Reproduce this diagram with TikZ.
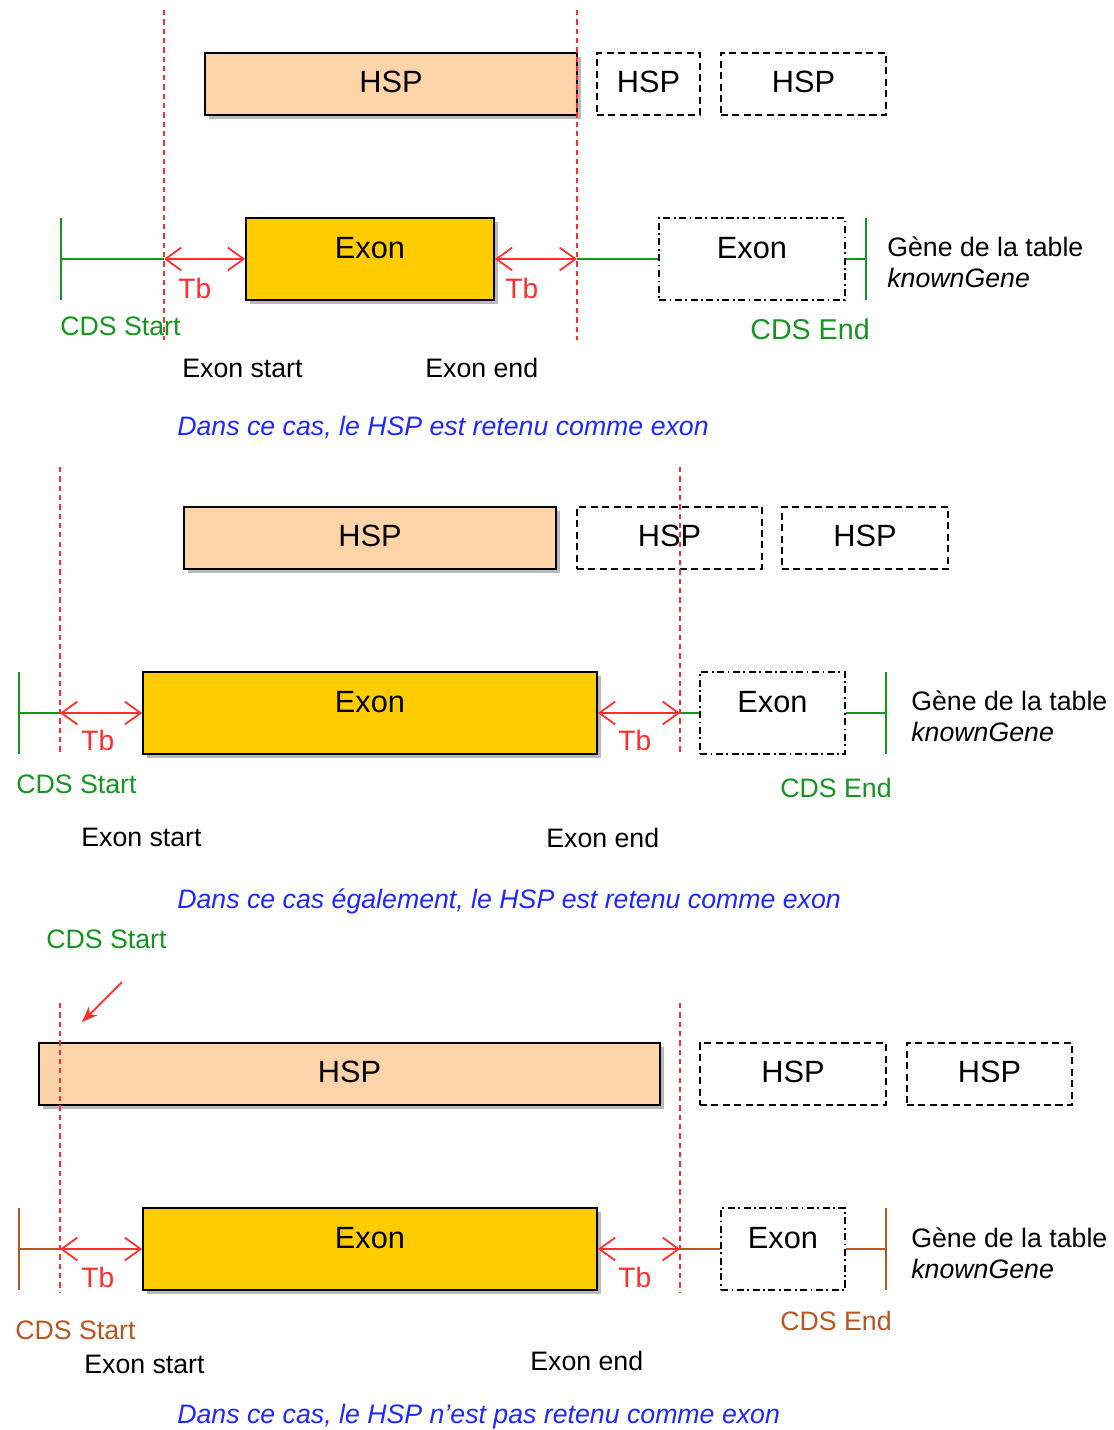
\documentclass[tikz,border=0pt]{standalone}
\usepackage{fontspec}
\setmainfont{Liberation Sans}
\usepackage{xcolor}
\usepackage{tikz}
\usetikzlibrary{shapes,arrows,arrows.meta,positioning,fit,backgrounds,shadows}

\definecolor{hspfill}{RGB}{252,212,168}
\definecolor{exonfill}{RGB}{255,204,0}
\definecolor{tbred}{RGB}{255,45,45}
\definecolor{cdsgreen}{RGB}{20,150,30}
\definecolor{cdsbrown}{RGB}{185,85,30}
\definecolor{noteblue}{RGB}{30,40,255}

\tikzset{
  boxfont/.style={font=\fontsize{17.5}{20}\selectfont},
  lbl/.style={anchor=base west,inner sep=0pt,font=\fontsize{15.2}{18}\selectfont},
  tblbl/.style={lbl,tbred,font=\fontsize{16}{19}\selectfont},
  notelbl/.style={lbl,noteblue,font=\fontsize{15.2}{18}\selectfont\itshape},
  hsptext/.style={label={[boxfont,yshift=1pt]center:#1}},
  hspbox/.style={draw,line width=1pt,fill=hspfill,inner sep=0pt,
    drop shadow={shadow xshift=2.5pt,shadow yshift=-2.5pt,opacity=0.55}},
  hspdash/.style={draw,line width=1pt,dash pattern=on 4pt off 2.5pt,inner sep=0pt},
  exonbox/.style={draw,line width=1pt,fill=exonfill,inner sep=0pt,boxfont,
    text height=6mm,text depth=6mm,
    drop shadow={shadow xshift=2.5pt,shadow yshift=-2.5pt,opacity=0.55}},
  exondash/.style={draw,line width=1pt,dash pattern=on 4pt off 2pt on 1pt off 2pt,
    inner sep=0pt,boxfont,text height=6mm,text depth=6mm},
  guide/.style={tbred,line width=0.9pt,dash pattern=on 3pt off 2.3pt},
  tbarrow/.style={tbred,line width=1pt,
    {Straight Barb[length=9pt,width=13pt]}-{Straight Barb[length=9pt,width=13pt]}},
  cds/.style={line width=1pt}
}

\begin{document}
\begin{tikzpicture}[x=0.02cm,y=-0.02cm]
\fill[white] (0,0) rectangle (1114,1430);
\useasboundingbox (0,0) rectangle (1114,1430);

% case 1
\node[hspbox,fit={(205,53) (577,115)},hsptext=HSP] (hsp1) {};
\node[hspdash,fit={(597,53) (700,115)},hsptext=HSP] (hsp1b) {};
\node[hspdash,fit={(721,53) (886,115)},hsptext=HSP] (hsp1c) {};
\node[exonbox,fit={(246,218) (494,300)}] (exon1) {Exon};
\node[exondash,fit={(659,218) (845,300)}] (exon1b) {Exon};
\coordinate (cs1) at (61,259);
\coordinate (ce1) at (866,259);
\coordinate (g1a) at (164,10);
\coordinate (g1b) at (577,10);
\draw[cdsgreen,cds] ([yshift=23.3pt]cs1) -- ([yshift=-23.3pt]cs1);
\draw[cdsgreen,cds] ([yshift=23.3pt]ce1) -- ([yshift=-23.3pt]ce1);
\draw[cdsgreen,cds] (cs1) -- (g1a |- cs1);
\draw[tbarrow] (g1a |- exon1.west) -- (exon1.west);
\draw[tbarrow] (exon1.east) -- (g1b |- exon1.east);
\draw[cdsgreen,cds] (g1b |- exon1.east) -- (exon1b.west);
\draw[cdsgreen,cds] (exon1b.east) -- (ce1);
\draw[guide] (g1a) -- (164,340);
\draw[guide] (g1b) -- (577,340);
\node[tblbl] (tb1a) at (178,298) {Tb};
\node[tblbl] (tb1b) at (505,298) {Tb};
\node[lbl,cdsgreen] (cdss1) at (60,335) {CDS Start};
\node[lbl,cdsgreen,font=\fontsize{16.3}{19}\selectfont] (cdse1) at (750,339) {CDS End};
\node[lbl] (exs1) at (182,377) {Exon start};
\node[lbl] (exe1) at (425,377) {Exon end};
\node[lbl] (gene1) at (887,256) {Gène de la table};
\node[lbl] (kg1) at (887,287) {\itshape knownGene};
\node[notelbl] (note1) at (177,435) {Dans ce cas, le HSP est retenu comme exon};

% case 2
\node[hspbox,fit={(184,507) (556,569)},hsptext=HSP] (hsp2) {};
\node[hspdash,fit={(577,507) (762,569)},hsptext=HSP] (hsp2b) {};
\node[hspdash,fit={(782,507) (948,569)},hsptext=HSP] (hsp2c) {};
\node[exonbox,fit={(143,672) (597,754)}] (exon2) {Exon};
\node[exondash,fit={(700,672) (845,754)}] (exon2b) {Exon};
\coordinate (cs2) at (19,713);
\coordinate (ce2) at (886,713);
\coordinate (g2a) at (60,467);
\coordinate (g2b) at (680,467);
\draw[cdsgreen,cds] ([yshift=23.3pt]cs2) -- ([yshift=-23.3pt]cs2);
\draw[cdsgreen,cds] ([yshift=23.3pt]ce2) -- ([yshift=-23.3pt]ce2);
\draw[cdsgreen,cds] (cs2) -- (g2a |- cs2);
\draw[tbarrow] (g2a |- exon2.west) -- (exon2.west);
\draw[tbarrow] (exon2.east) -- (g2b |- exon2.east);
\draw[cdsgreen,cds] (g2b |- exon2.east) -- (exon2b.west);
\draw[cdsgreen,cds] (exon2b.east) -- (ce2);
\draw[guide] (g2a) -- (60,755);
\draw[guide] (g2b) -- (680,755);
\node[tblbl] (tb2a) at (81,750) {Tb};
\node[tblbl] (tb2b) at (618,750) {Tb};
\node[lbl,cdsgreen] (cdss2) at (16,793) {CDS Start};
\node[lbl,cdsgreen] (cdse2) at (780,797) {CDS End};
\node[lbl] (exs2) at (81,846) {Exon start};
\node[lbl] (exe2) at (546,847) {Exon end};
\node[lbl] (gene2) at (911,710) {Gène de la table};
\node[lbl] (kg2) at (911,741) {\itshape knownGene};
\node[notelbl] (note2) at (177,908) {Dans ce cas également, le HSP est retenu comme exon};

% case 3
\node[lbl,cdsgreen] (cdsg3) at (46,948) {CDS Start};
\coordinate (pt3a) at (122,982);
\coordinate (pt3b) at (82,1022);
\draw[tbred,line width=1pt,-{Stealth[length=9pt,width=7pt]}] (pt3a) -- (pt3b);
\node[hspbox,fit={(39,1043) (660,1105)},hsptext=HSP] (hsp3) {};
\node[hspdash,fit={(700,1043) (886,1105)},hsptext=HSP] (hsp3b) {};
\node[hspdash,fit={(907,1043) (1072,1105)},hsptext=HSP] (hsp3c) {};
\node[exonbox,fit={(143,1208) (597,1290)}] (exon3) {Exon};
\node[exondash,fit={(721,1208) (845,1290)}] (exon3b) {Exon};
\coordinate (cs3) at (19,1249);
\coordinate (ce3) at (886,1249);
\coordinate (g3a) at (60,1003);
\coordinate (g3b) at (680,1003);
\draw[cdsbrown,cds] ([yshift=23.3pt]cs3) -- ([yshift=-23.3pt]cs3);
\draw[cdsbrown,cds] ([yshift=23.3pt]ce3) -- ([yshift=-23.3pt]ce3);
\draw[cdsbrown,cds] (cs3) -- (g3a |- cs3);
\draw[tbarrow] (g3a |- exon3.west) -- (exon3.west);
\draw[tbarrow] (exon3.east) -- (g3b |- exon3.east);
\draw[cdsbrown,cds] (g3b |- exon3.east) -- (exon3b.west);
\draw[cdsbrown,cds] (exon3b.east) -- (ce3);
\draw[guide] (g3a) -- (60,1292);
\draw[guide] (g3b) -- (680,1292);
\node[tblbl] (tb3a) at (81,1287) {Tb};
\node[tblbl] (tb3b) at (618,1287) {Tb};
\node[lbl,cdsbrown] (cdss3) at (15,1339) {CDS Start};
\node[lbl,cdsbrown] (cdse3) at (780,1330) {CDS End};
\node[lbl] (exs3) at (84,1373) {Exon start};
\node[lbl] (exe3) at (530,1370) {Exon end};
\node[lbl] (gene3) at (911,1247) {Gène de la table};
\node[lbl] (kg3) at (911,1278) {\itshape knownGene};
\node[notelbl] (note3) at (177,1423) {Dans ce cas, le HSP n’est pas retenu comme exon};
\end{tikzpicture}
\end{document}
